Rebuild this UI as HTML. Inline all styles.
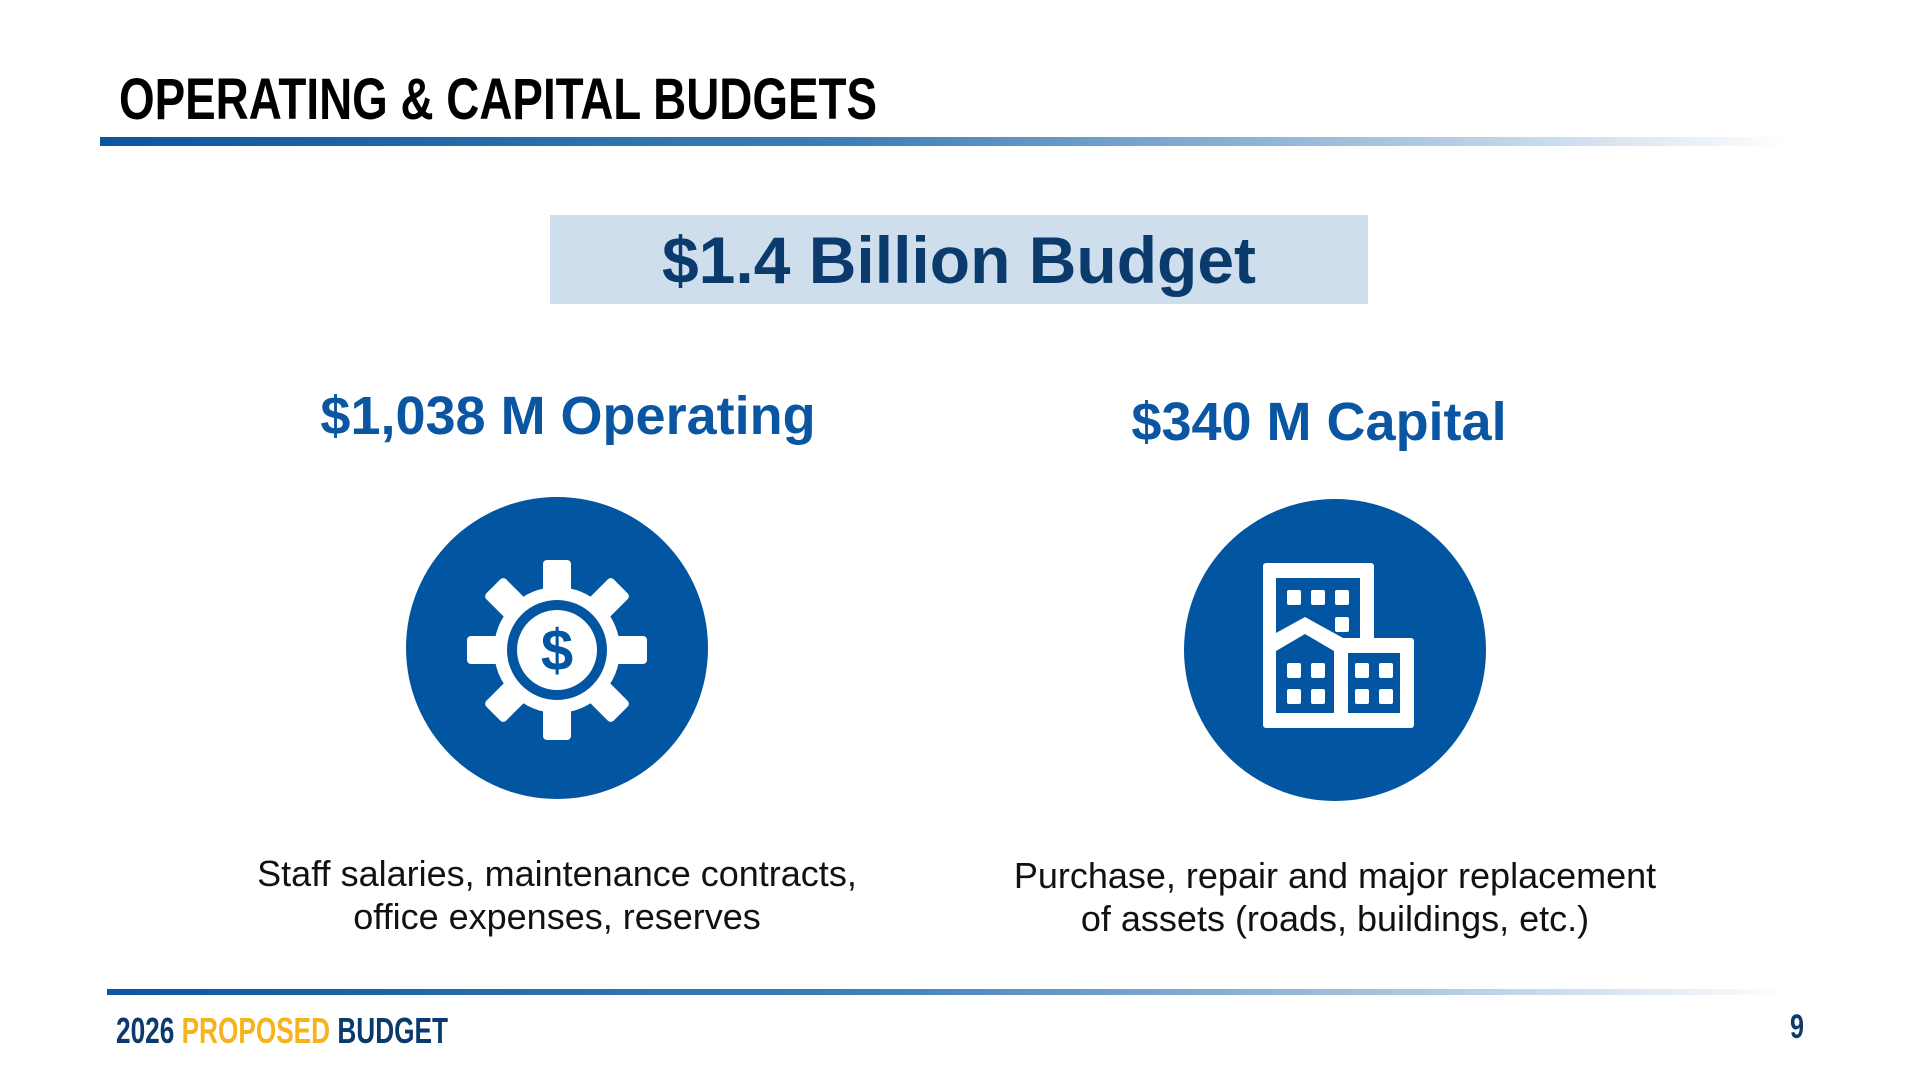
<!DOCTYPE html>
<html><head><meta charset="utf-8"><style>html,body{margin:0;padding:0;background:#fff}svg{display:block}</style></head>
<body>
<svg width="1920" height="1078" viewBox="0 0 1920 1078" xmlns="http://www.w3.org/2000/svg" font-family="Liberation Sans, Arial, sans-serif">
<defs>
<linearGradient id="g" x1="0" x2="1" y1="0" y2="0">
<stop offset="0" stop-color="#0a56a0"/><stop offset="0.45" stop-color="#3f7fb8"/><stop offset="0.8" stop-color="#b5cde4"/><stop offset="1" stop-color="#ffffff"/>
</linearGradient>
</defs>
<rect width="1920" height="1078" fill="#fff"/>
<text x="119" y="119" font-size="58" font-weight="bold" fill="#000" textLength="758" lengthAdjust="spacingAndGlyphs">OPERATING &amp; CAPITAL BUDGETS</text>
<rect x="100" y="137" width="1690" height="9" fill="url(#g)"/>
<rect x="550" y="215" width="818" height="89" fill="#cfdeed"/>
<text x="959" y="283" font-size="66" font-weight="bold" fill="#0b3b6c" text-anchor="middle">$1.4 Billion Budget</text>
<text x="568" y="434" font-size="54" font-weight="bold" fill="#0a56a2" text-anchor="middle">$1,038 M Operating</text>
<text x="1319" y="440" font-size="54" font-weight="bold" fill="#0a56a2" text-anchor="middle">$340 M Capital</text>

<circle cx="557" cy="648" r="151" fill="#0255a0"/>
<g transform="translate(557,650)" fill="#fff">
<circle r="63"/>
<g id="t"><rect x="-14" y="-90" width="28" height="40" rx="4"/></g>
<use href="#t" transform="rotate(45)"/><use href="#t" transform="rotate(90)"/><use href="#t" transform="rotate(135)"/>
<use href="#t" transform="rotate(180)"/><use href="#t" transform="rotate(225)"/><use href="#t" transform="rotate(270)"/><use href="#t" transform="rotate(315)"/>
<circle r="50" fill="#0255a0"/>
<circle r="40"/>
<text x="0" y="20" font-size="58" font-weight="bold" fill="#0255a0" text-anchor="middle">$</text>
</g>

<circle cx="1335" cy="650" r="151" fill="#0255a0"/>
<g transform="translate(1160,480)">
<path d="M106,83 H211 a3,3 0 0 1 3,3 V158 H251 a3,3 0 0 1 3,3 V245 a3,3 0 0 1 -3,3 H106 a3,3 0 0 1 -3,-3 V86 a3,3 0 0 1 3,-3 Z" fill="#fff"/>
<rect x="116" y="98" width="84" height="60" fill="#0255a0"/>
<polygon points="116,153 145,137 183,158 200,158 200,163 116,163" fill="#fff"/>
<polygon points="116,171 145,154 174,171 174,233 116,233" fill="#0255a0"/>
<rect x="188" y="173" width="52" height="60" fill="#0255a0"/>
<g fill="#fff">
<rect x="127" y="110" width="14" height="15" rx="2"/><rect x="151" y="110" width="14" height="15" rx="2"/><rect x="175" y="110" width="14" height="15" rx="2"/><rect x="175" y="137" width="14" height="15" rx="2"/>
<rect x="127" y="183" width="14" height="15" rx="2"/><rect x="151" y="183" width="14" height="15" rx="2"/><rect x="127" y="209" width="14" height="15" rx="2"/><rect x="151" y="209" width="14" height="15" rx="2"/>
<rect x="195" y="183" width="14" height="15" rx="2"/><rect x="219" y="183" width="14" height="15" rx="2"/><rect x="195" y="209" width="14" height="15" rx="2"/><rect x="219" y="209" width="14" height="15" rx="2"/>
</g>
</g>

<g font-size="36" fill="#111" text-anchor="middle">
<text x="557" y="886">Staff salaries, maintenance contracts,</text>
<text x="557" y="929">office expenses, reserves</text>
<text x="1335" y="888">Purchase, repair and major replacement</text>
<text x="1335" y="931">of assets (roads, buildings, etc.)</text>
</g>

<rect x="107" y="989" width="1683" height="6" fill="url(#g)"/>
<text x="116" y="1043" font-size="36" font-weight="bold" textLength="332" lengthAdjust="spacingAndGlyphs" fill="#0b3b6c">2026 <tspan fill="#f5b31c">PROPOSED</tspan> BUDGET</text>
<text x="1790" y="1038" font-size="34" font-weight="bold" fill="#0b3b6c" textLength="14" lengthAdjust="spacingAndGlyphs">9</text>
</svg>
</body></html>
